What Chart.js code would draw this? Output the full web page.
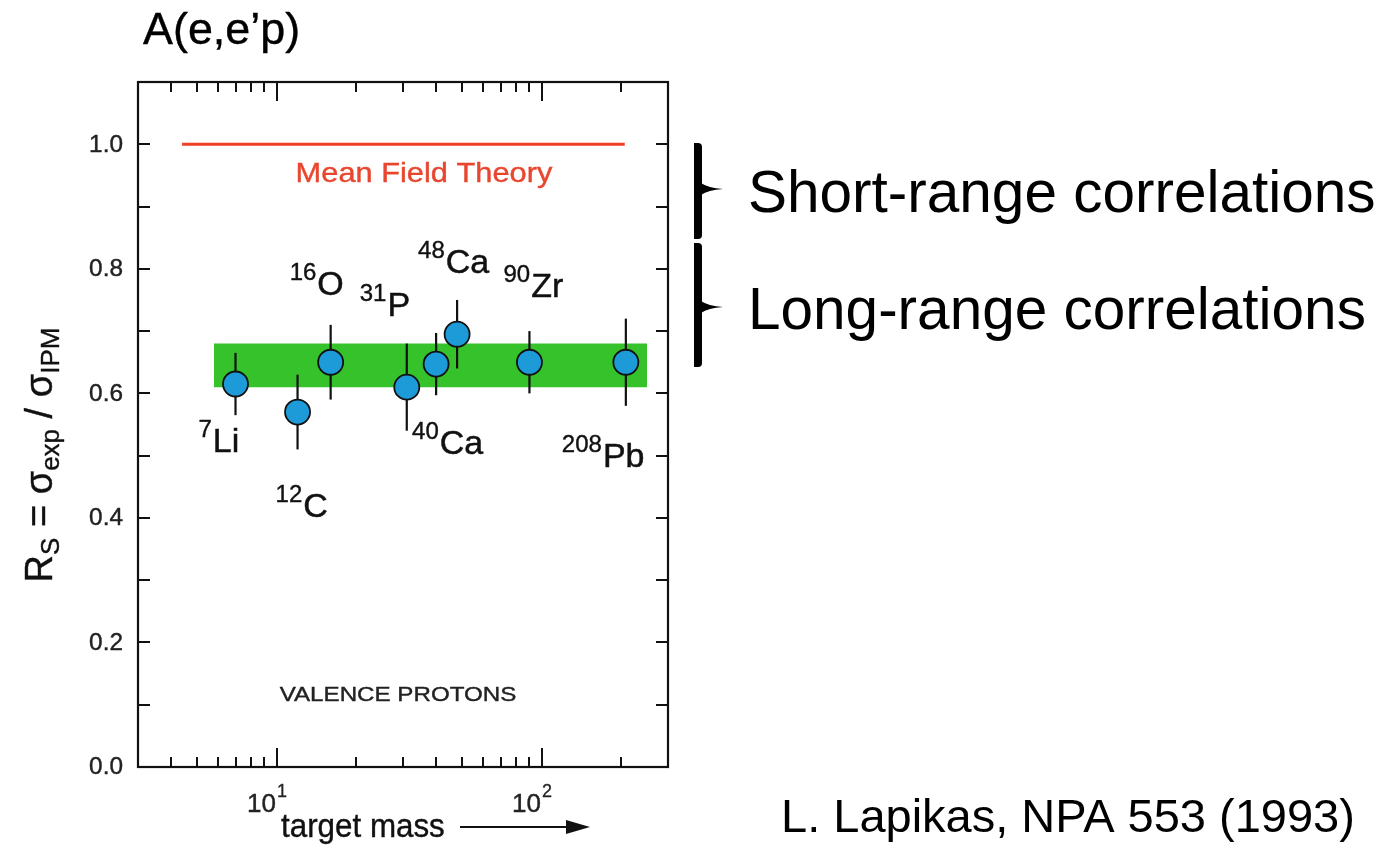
<!DOCTYPE html>
<html>
<head>
<meta charset="utf-8">
<script src="https://cdn.jsdelivr.net/npm/chart.js@4/dist/chart.umd.min.js"></script>
<style>
  html, body { margin: 0; padding: 0; background: #ffffff; }
  canvas { display: block; }
</style>
</head>
<body>
<canvas id="chart" width="1393" height="850"></canvas>
<script>
// ---------------- data ----------------
const massNumbers = [7, 12, 16, 31, 40, 48, 90, 208];
const elementSymbols = ['Li', 'C', 'O', 'P', 'Ca', 'Ca', 'Zr', 'Pb'];
const rsValues = [0.615, 0.57, 0.65, 0.61, 0.647, 0.695, 0.65, 0.65];
const rsErrors = [0.05, 0.06, 0.06, 0.07, 0.05, 0.055, 0.05, 0.07];
const bandBounds = [0.61, 0.68];
const bandMassRange = [5.8, 250];
const meanFieldValue = [1.0];
const meanFieldMassRange = [4.4, 206];
const xMajorTicks = [10, 100];
const xMinorTicks = [4, 5, 6, 7, 8, 9, 20, 30, 40, 50, 60, 70, 80, 90, 200];
const xTickBases = ['10', '10'];
const xTickExponents = ['1', '2'];
const yTickValues = [0.1, 0.2, 0.3, 0.4, 0.5, 0.6, 0.7, 0.8, 0.9, 1.0];
const yLabelValues = [0.0, 0.2, 0.4, 0.6, 0.8, 1.0];
const yLabelTexts = ['0.0', '0.2', '0.4', '0.6', '0.8', '1.0'];

// ---------------- layout (label placement, px offsets from point) ----------------
const labelOffsets = [[-37, 68], [-22, 105], [-41, -67], [-47, -71], [-24, 90], [-39, -61], [-26, -65], [-64, 105]];

const FONT = '"Liberation Sans", Arial, Helvetica, sans-serif';

function stext(ctx, str, x, y, size, sx, align, color, baseline, heavy) {
  ctx.save();
  ctx.font = size + 'px ' + FONT;
  ctx.fillStyle = color || '#000';
  ctx.textAlign = align || 'left';
  ctx.textBaseline = baseline || 'alphabetic';
  ctx.translate(x, y);
  ctx.scale(sx, 1);
  ctx.fillText(str, 0, 0);
  if (heavy) {
    ctx.strokeStyle = color || '#000';
    ctx.lineWidth = heavy;
    ctx.strokeText(str, 0, 0);
  }
  const w = ctx.measureText(str).width * sx;
  ctx.restore();
  return w;
}
function measure(ctx, str, size, sx) {
  ctx.save();
  ctx.font = size + 'px ' + FONT;
  const w = ctx.measureText(str).width * sx;
  ctx.restore();
  return w;
}

// ---------------- datasets ----------------
const datasets = [];
datasets.push({
  type: 'line',
  data: bandMassRange.map(m => ({ x: m, y: bandBounds[1] })),
  borderWidth: 0,
  borderColor: 'rgba(0,0,0,0)',
  backgroundColor: '#36c22a',
  fill: { value: bandBounds[0] },
  pointRadius: 0,
  order: 20
});
datasets.push({
  type: 'line',
  data: meanFieldMassRange.map(m => ({ x: m, y: meanFieldValue[0] })),
  borderWidth: 3,
  borderColor: '#ee3f26',
  pointRadius: 0,
  fill: false,
  order: 15
});
massNumbers.forEach((m, i) => {
  datasets.push({
    type: 'line',
    data: [{ x: m, y: rsValues[i] - rsErrors[i] }, { x: m, y: rsValues[i] + rsErrors[i] }],
    borderWidth: 2.2,
    borderColor: '#111',
    pointRadius: 0,
    fill: false,
    order: 10
  });
});
datasets.push({
  type: 'scatter',
  data: massNumbers.map((m, i) => ({ x: m, y: rsValues[i] })),
  pointRadius: 12.5,
  pointBackgroundColor: '#1c9bd8',
  pointBorderColor: '#111',
  pointBorderWidth: 1.8,
  showLine: false,
  order: 0
});

// ---------------- decoration plugin ----------------
const decor = {
  id: 'decor',
  afterDraw(chart) {
    const ctx = chart.ctx;
    const xs = chart.scales.x, ys = chart.scales.y;
    const a = chart.chartArea;

    // frame
    ctx.save();
    ctx.strokeStyle = '#111';
    ctx.lineWidth = 2.2;
    ctx.strokeRect(a.left, a.top, a.right - a.left, a.bottom - a.top);

    // x ticks (bottom & top, inward)
    ctx.lineWidth = 2;
    const drawX = (vals, len) => vals.forEach(v => {
      const px = Math.round(xs.getPixelForValue(v));
      ctx.beginPath();
      ctx.moveTo(px, a.bottom); ctx.lineTo(px, a.bottom - len);
      ctx.moveTo(px, a.top); ctx.lineTo(px, a.top + len);
      ctx.stroke();
    });
    drawX(xMinorTicks, 10);
    drawX(xMajorTicks, 19);
    // y ticks (left & right, inward)
    yTickValues.forEach(v => {
      const py = Math.round(ys.getPixelForValue(v));
      ctx.beginPath();
      ctx.moveTo(a.left, py); ctx.lineTo(a.left + 12, py);
      ctx.moveTo(a.right, py); ctx.lineTo(a.right - 12, py);
      ctx.stroke();
    });
    ctx.restore();

    // y tick labels
    yLabelValues.forEach((v, i) => {
      stext(ctx, yLabelTexts[i], a.left - 15, ys.getPixelForValue(v) + 1, 23, 1.06, 'right', '#222', 'middle', 0.4);
    });
    // x tick labels
    xMajorTicks.forEach((v, i) => {
      const px = xs.getPixelForValue(v);
      const wb = measure(ctx, xTickBases[i], 26, 1.0);
      const we = measure(ctx, xTickExponents[i], 18, 1.0);
      const left = px - 10 - (wb + we) / 2;
      stext(ctx, xTickBases[i], left, 812, 26, 1.0, 'left', '#222', 'alphabetic', 0.4);
      stext(ctx, xTickExponents[i], left + wb + 1, 797, 18, 1.0, 'left', '#222', 'alphabetic', 0.3);
    });

    // isotope labels
    massNumbers.forEach((m, i) => {
      const px = xs.getPixelForValue(m), py = ys.getPixelForValue(rsValues[i]);
      const lx = px + labelOffsets[i][0], ly = py + labelOffsets[i][1];
      const w = stext(ctx, String(m), lx, ly - 15, 24, 1.0, 'left', '#111', 'alphabetic', 0.4);
      stext(ctx, elementSymbols[i], lx + w + 1, ly, 34, 1.0, 'left', '#111', 'alphabetic', 0.5);
    });

    // in-plot texts
    stext(ctx, 'Mean Field Theory', 424, 174, 28, 1.1, 'center', '#e8462e', 'middle', 0.4);
    stext(ctx, 'VALENCE PROTONS', 398, 695, 21, 1.15, 'center', '#222', 'middle', 0.4);

    // title
    stext(ctx, 'A(e,e\u2019p)', 143, 44, 44, 1.02, 'left', '#000', 'alphabetic', 0.4);

    // x axis title with arrow
    stext(ctx, 'target mass', 281, 837, 33, 0.95, 'left', '#111', 'alphabetic', 0.4);
    ctx.save();
    ctx.strokeStyle = '#111'; ctx.fillStyle = '#111'; ctx.lineWidth = 2;
    ctx.beginPath(); ctx.moveTo(460, 827); ctx.lineTo(572, 827); ctx.stroke();
    ctx.beginPath(); ctx.moveTo(590, 827); ctx.lineTo(566, 820); ctx.lineTo(566, 834); ctx.closePath(); ctx.fill();
    ctx.restore();

    // y axis title (rotated)
    ctx.save();
    ctx.translate(40, 455);
    ctx.rotate(-Math.PI / 2);
    const segs = [
      { t: 'R', s: 38, d: 0 }, { t: 'S', s: 26, d: 7 },
      { t: ' = \u03c3', s: 38, d: 0 }, { t: 'exp', s: 26, d: 7 },
      { t: ' / \u03c3', s: 38, d: 0 }, { t: 'IPM', s: 26, d: 7 }
    ];
    let total = 0;
    segs.forEach(g => { ctx.font = g.s + 'px ' + FONT; g.w = ctx.measureText(g.t).width; total += g.w; });
    let cx = -total / 2;
    ctx.fillStyle = '#111';
    ctx.strokeStyle = '#111';
    ctx.lineWidth = 0.4;
    ctx.textBaseline = 'alphabetic';
    segs.forEach(g => {
      ctx.font = g.s + 'px ' + FONT;
      ctx.fillText(g.t, cx, 12 + g.d);
      ctx.strokeText(g.t, cx, 12 + g.d);
      cx += g.w;
    });
    ctx.restore();

    // brackets
    const bracket = (y0, y1, ym) => {
      ctx.save();
      ctx.fillStyle = '#000';
      ctx.beginPath();
      if (ctx.roundRect) ctx.roundRect(694, y0, 8, y1 - y0, [0, 4, 4, 0]); else ctx.rect(694, y0, 8, y1 - y0);
      ctx.fill();
      ctx.beginPath();
      ctx.moveTo(701, ym - 6);
      ctx.quadraticCurveTo(708, ym - 1, 723, ym);
      ctx.quadraticCurveTo(708, ym + 1, 701, ym + 6);
      ctx.closePath();
      ctx.fill();
      ctx.restore();
    };
    bracket(143, 239, 189);
    bracket(243, 367, 307);
    stext(ctx, 'Short-range correlations', 748, 212, 58.5, 1.0, 'left', '#000');
    stext(ctx, 'Long-range correlations', 748, 329, 58.5, 1.0, 'left', '#000');

    // citation
    stext(ctx, 'L. Lapikas, NPA 553 (1993)', 781, 832, 47, 1.0, 'left', '#000');
  }
};

new Chart(document.getElementById('chart'), {
  type: 'scatter',
  data: { datasets },
  options: {
    responsive: false,
    animation: false,
    events: [],
    layout: { padding: { left: 0, right: 725, top: 82, bottom: 0 } },
    plugins: { legend: { display: false }, tooltip: { enabled: false }, title: { display: false } },
    scales: {
      x: {
        type: 'logarithmic', min: 3, max: 300,
        ticks: { display: false }, grid: { display: false }, border: { display: false },
        afterFit(s) { s.height = 83; }
      },
      y: {
        type: 'linear', min: 0, max: 1.1,
        ticks: { display: false }, grid: { display: false }, border: { display: false },
        afterFit(s) { s.width = 138; }
      }
    }
  },
  plugins: [decor]
});
</script>
</body>
</html>
